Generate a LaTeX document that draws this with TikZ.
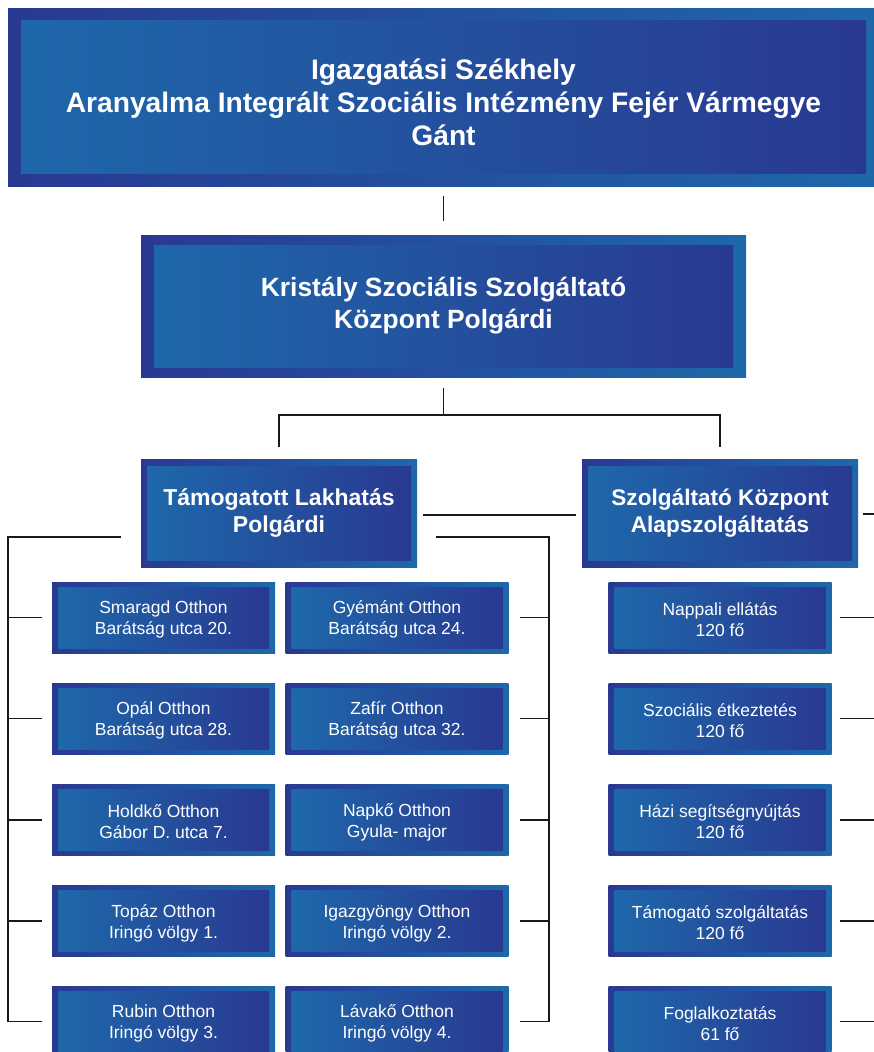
\documentclass[tikz,border=0pt]{standalone}
\usepackage{fontspec}
\setmainfont{Liberation Sans}
\definecolor{cdark}{RGB}{41,57,145}
\definecolor{clight}{RGB}{30,104,170}
\definecolor{cline}{RGB}{25,25,25}
\tikzset{
  outerbox/.style={draw=none, left color=cdark, right color=clight, inner sep=0pt},
  innerbox/.style={draw=none, left color=clight, right color=cdark, inner sep=0pt, text=white, align=center},
  conn/.style={draw=cline, line width=1.7pt},
  fbig/.style={font=\fontsize{28.2}{33}\selectfont\bfseries},
  fmid/.style={font=\fontsize{26.4}{32}\selectfont\bfseries},
  fsub/.style={font=\fontsize{23}{27}\selectfont\bfseries},
  fsmall/.style={font=\fontsize{17.5}{21}\selectfont},
}
\newcommand\smallbox[4]{%
  \node[outerbox, minimum width=223pt, minimum height=71pt] (#1) at (#2,#3) {};
  \node[innerbox, minimum width=211pt, minimum height=61pt] (#1i) at (#1.center) {};
  \node[text=white, align=center, fsmall] (#1t) at ([yshift=-2pt]#1.center) {#4};
}
\begin{document}
\begin{tikzpicture}[x=1pt,y=1pt]
\useasboundingbox (0,0) rectangle (874,-1052);
\clip (0,0) rectangle (874,-1052);
% top
\node[outerbox, minimum width=871pt, minimum height=178pt] (top) at (443.5,-97) {};
\node[innerbox, minimum width=845pt, minimum height=153pt] (topin) at (top.center) {};
\node[text=white, align=center, fbig] (toptxt) at (443.5,-102) {Igazgatási Székhely\\Aranyalma Integrált Szociális Intézmény Fejér Vármegye\\Gánt};
% second
\node[outerbox, minimum width=605pt, minimum height=142pt] (kp) at (443.5,-306) {};
\node[innerbox, fmid, minimum width=579pt, minimum height=122pt] (kpt) at (kp.center) {Kristály Szociális Szolgáltató\\Központ Polgárdi};
% third level
\node[outerbox, minimum width=276pt, minimum height=108pt] (tl) at (279,-513) {};
\node[innerbox, fsub, minimum width=264pt, minimum height=94pt] (tlt) at (tl.center) {Támogatott Lakhatás\\Polgárdi};
\node[outerbox, minimum width=276pt, minimum height=108pt] (sz) at (720,-513) {};
\node[innerbox, font=\fontsize{22.6}{27}\selectfont\bfseries, minimum width=264pt, minimum height=94pt] (szt) at (sz.center) {Szolgáltató Központ\\Alapszolgáltatás};
% small boxes
\smallbox{a1}{163.5}{-617.5}{Smaragd Otthon\\Barátság utca 20.}
\smallbox{a2}{163.5}{-718.5}{Opál Otthon\\Barátság utca 28.}
\smallbox{a3}{163.5}{-820}{Holdkő Otthon\\Gábor D. utca 7.}
\smallbox{a4}{163.5}{-921}{Topáz Otthon\\Iringó völgy 1.}
\smallbox{a5}{163.5}{-1021.5}{Rubin Otthon\\Iringó völgy 3.}
\smallbox{b1}{397}{-617.5}{Gyémánt Otthon\\Barátság utca 24.}
\smallbox{b2}{397}{-718.5}{Zafír Otthon\\Barátság utca 32.}
\smallbox{b3}{397}{-820}{Napkő Otthon\\Gyula- major}
\smallbox{b4}{397}{-921}{Igazgyöngy Otthon\\Iringó völgy 2.}
\smallbox{b5}{397}{-1021.5}{Lávakő Otthon\\Iringó völgy 4.}
\smallbox{c1}{720}{-617.5}{Nappali ellátás\\120 fő}
\smallbox{c2}{720}{-718.5}{Szociális étkeztetés\\120 fő}
\smallbox{c3}{720}{-820}{Házi segítségnyújtás\\120 fő}
\smallbox{c4}{720}{-921}{Támogató szolgáltatás\\120 fő}
\smallbox{c5}{720}{-1021.5}{Foglalkoztatás\\61 fő}
% connectors
\coordinate (lbus) at (8,-537);
\coordinate (rbus) at (549,-537);
\coordinate (redge) at (874,0);
\draw[conn] ([yshift=-10pt]top.south) -- ([yshift=14pt]kp.south |- kp.north);
\draw[conn] ([yshift=-11pt]kp.south) -- ([yshift=-38pt]kp.south);
\draw[conn] ([yshift=12pt]tl.north) |- ([yshift=-38pt]kp.south) -| ([yshift=12pt]sz.north);
\draw[conn] ([xshift=6pt,yshift=-2pt]tl.east) -- ([xshift=-6pt,yshift=-2pt]sz.west);
\draw[conn] ([xshift=-20pt,yshift=-24pt]tl.west) -- (lbus) -- (lbus |- a5.west) -- ([xshift=-10pt]a5.west);
\foreach \n in {a1,a2,a3,a4} \draw[conn] (lbus |- \n.west) -- ([xshift=-10pt]\n.west);
\draw[conn] ([xshift=19pt,yshift=-24pt]tl.east) -- (rbus) -- (rbus |- b5.east) -- ([xshift=11pt]b5.east);
\foreach \n in {b1,b2,b3,b4} \draw[conn] (rbus |- \n.east) -- ([xshift=11pt]\n.east);
\draw[conn] ([xshift=5pt,yshift=-1pt]sz.east) -- ([yshift=-1pt]redge |- sz.east);
\foreach \n in {c1,c2,c3,c4,c5} \draw[conn] ([xshift=8pt]\n.east) -- (redge |- \n.east);
\end{tikzpicture}
\end{document}
